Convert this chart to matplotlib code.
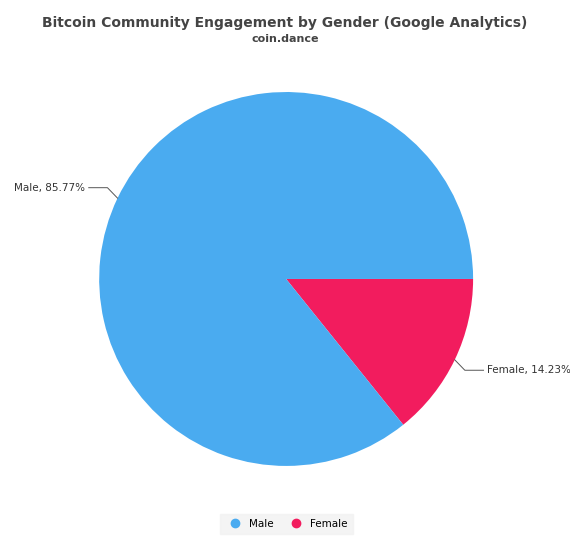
import numpy as np
from matplotlib import pyplot as plt
from matplotlib.lines import Line2D

labels = ['Female', 'Male']
values = [14.23, 85.77]
colors = ['#f21c5e', '#4aabf0']

fig = plt.figure(figsize=(5.7, 5.47), dpi=100)
ax = fig.add_axes([0.502 - 0.328, 0.49 - 0.342, 0.656, 0.684])
wedges, _ = ax.pie(values, colors=colors, startangle=0, counterclock=False,
                   radius=1.0)
ax.set_xlim(-1, 1)
ax.set_ylim(-1, 1)
ax.set_aspect('equal')

# leader lines and labels
for w, lab, val in zip(wedges, labels, values):
    ang = np.deg2rad((w.theta1 + w.theta2) / 2)
    x0, y0 = np.cos(ang), np.sin(ang)
    side = 1 if x0 > 0 else -1
    x1, y1 = 1.06 * x0, 1.06 * y0 + 0.03 * (1 if side < 0 else -1)
    x2 = x1 + side * 0.1
    ax.plot([x0, x1, x2], [y0, y1, y1], color='#555555', lw=0.7,
            clip_on=False)
    ax.text(x2 + side * 0.02, y1, f'{lab}, {val:.2f}%', fontsize=7.5,
            color='#333333', ha='left' if side > 0 else 'right',
            va='center', clip_on=False)

fig.text(0.5, 0.958, 'Bitcoin Community Engagement by Gender (Google Analytics)',
         ha='center', va='center', fontsize=10, fontweight='bold', color='#444444')
fig.text(0.5, 0.928, 'coin.dance', ha='center', va='center', fontsize=8,
         fontweight='bold', color='#444444')

handles = [Line2D([], [], marker='o', ls='', color=colors[1], markersize=6),
           Line2D([], [], marker='o', ls='', color=colors[0], markersize=6)]
fig.legend(handles, ['Male', 'Female'], loc='center', bbox_to_anchor=(0.502, 0.042),
           ncol=2, fontsize=7.5, frameon=True, facecolor='#f2f2f2',
           edgecolor='#f2f2f2', handletextpad=0.3, columnspacing=1.2,
           borderpad=0.5, fancybox=False)

plt.savefig('out.png', dpi=100, facecolor='white')
